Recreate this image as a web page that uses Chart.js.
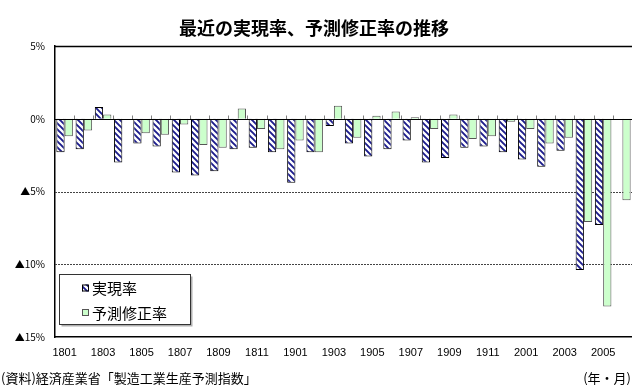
<!DOCTYPE html>
<html lang="ja">
<head>
<meta charset="utf-8">
<title>最近の実現率、予測修正率の推移</title>
<script src="https://cdn.jsdelivr.net/npm/chart.js@4.4.1/dist/chart.umd.min.js"></script>
<style>
  html, body { margin: 0; padding: 0; background: #ffffff; }
  #wrap { width: 632px; height: 385px; position: relative; }
</style>
</head>
<body>
<div id="wrap"><canvas id="chart" width="632" height="385"></canvas></div>
<script>
// 年・月 (YYMM)
const categories = [
  '1801','1802','1803','1804','1805','1806','1807','1808','1809','1810','1811','1812',
  '1901','1902','1903','1904','1905','1906','1907','1908','1909','1910','1911','1912',
  '2001','2002','2003','2004','2005','2006'
];

// 実現率 (%)
const jitsugenRitsu = [
  -2.3, -2.1, 0.8, -3.0, -1.7, -1.9, -3.7, -3.9, -3.6, -2.1, -2.0, -2.3,
  -4.4, -2.3, -0.5, -1.7, -2.6, -2.1, -1.5, -3.0, -2.7, -2.0, -1.9, -2.3,
  -2.8, -3.3, -2.2, -10.4, -7.3, null
];

// 予測修正率 (%)
const yosokuShuseiRitsu = [
  -1.2, -0.8, 0.3, 0.0, -1.0, -1.1, -0.4, -1.8, -2.0, 0.7, -0.7, -2.1,
  -1.5, -2.3, 0.9, -1.3, 0.2, 0.5, 0.1, -0.7, 0.3, -1.4, -1.2, -0.2,
  -0.7, -1.7, -1.3, -7.1, -12.9, -5.6
];

const yTickValues = [5, 0, -5, -10, -15];
const yTickLabels = ['5%', '0%', '▲5%', '▲10%', '▲15%'];

const titleText = '最近の実現率、予測修正率の推移';
const sourceText = '(資料)経済産業省「製造工業生産予測指数」';
const unitText = '(年・月)';

const LATIN = '"Liberation Sans", Arial, sans-serif';
const CJK = '"Noto Sans CJK JP", "Noto Sans", sans-serif';

// diagonal navy hatching for 実現率
function makeHatch() {
  const s = 6;
  const c = document.createElement('canvas');
  c.width = s; c.height = s;
  const g = c.getContext('2d');
  g.fillStyle = '#ffffff';
  g.fillRect(0, 0, s, s);
  g.strokeStyle = '#1c1c8c';
  g.lineWidth = 1.9;
  g.beginPath();
  g.moveTo(-1, -1); g.lineTo(s + 1, s + 1);
  g.moveTo(s - 1, -1); g.lineTo(s + 1, 1);
  g.moveTo(-1, s - 1); g.lineTo(1, s + 1);
  g.stroke();
  return g.createPattern(c, 'repeat');
}
const hatch = makeHatch();
const greenFill = '#ccffcc';

// grid lines, top frame, zero line with category ticks
const framePlugin = {
  id: 'frame',
  beforeDatasetsDraw(chart) {
    const { ctx, chartArea: a, scales: { y } } = chart;
    ctx.save();
    y.ticks.forEach(t => {
      const py = Math.round(y.getPixelForValue(t.value)) + 0.5;
      if (t.value === y.max) {
        ctx.strokeStyle = '#000'; ctx.lineWidth = 1.5; ctx.setLineDash([]);
      } else if (t.value === 0 || t.value === y.min) {
        return;
      } else {
        ctx.strokeStyle = '#444'; ctx.lineWidth = 1; ctx.setLineDash([2, 1]);
      }
      ctx.beginPath(); ctx.moveTo(a.left, py); ctx.lineTo(a.right, py); ctx.stroke();
    });
    ctx.restore();
  },
  afterDatasetsDraw(chart) {
    const { ctx, chartArea: a, scales: { x, y } } = chart;
    const y0 = Math.round(y.getPixelForValue(0)) + 0.5;
    ctx.save();
    ctx.strokeStyle = '#808080';
    ctx.lineWidth = 1;
    for (let i = 1; i < categories.length; i++) {
      const bx = Math.round((x.getPixelForValue(i - 1) + x.getPixelForValue(i)) / 2) + 0.5;
      ctx.beginPath(); ctx.moveTo(bx, y0 - 4); ctx.lineTo(bx, y0); ctx.stroke();
    }
    ctx.strokeStyle = '#000';
    ctx.lineWidth = 1.2;
    ctx.beginPath(); ctx.moveTo(a.left, y0); ctx.lineTo(a.right, y0); ctx.stroke();
    ctx.restore();
  }
};

// legend box, title and notes
const textPlugin = {
  id: 'texts',
  afterDraw(chart) {
    const { ctx } = chart;
    ctx.save();
    // legend
    const bx = 59.5, by = 274.5, bw = 131, bh = 50;
    ctx.fillStyle = '#b0b0b0';
    ctx.fillRect(bx + 2, by + 2, bw, bh);
    ctx.fillStyle = '#ffffff';
    ctx.fillRect(bx, by, bw, bh);
    ctx.strokeStyle = '#333';
    ctx.lineWidth = 1;
    ctx.strokeRect(bx, by, bw, bh);
    ctx.font = '15px ' + CJK;
    ctx.textBaseline = 'middle';
    ctx.textAlign = 'left';
    chart.data.datasets.forEach((ds, i) => {
      const cy = 288 + i * 24.5;
      ctx.fillStyle = ds.backgroundColor;
      ctx.fillRect(82, cy - 3.5, 7, 7);
      ctx.strokeStyle = ds.borderColor;
      ctx.strokeRect(82.5, cy - 3, 6, 6);
      ctx.fillStyle = '#000';
      ctx.fillText(ds.label, 92, cy + 0.5);
    });
    // title
    ctx.font = 'bold 18px ' + CJK;
    ctx.textAlign = 'center';
    ctx.fillStyle = '#000';
    ctx.fillText(titleText, 314, 28);
    // notes
    ctx.font = '13px ' + CJK;
    ctx.textAlign = 'left';
    ctx.fillText(sourceText, 1, 378);
    ctx.textAlign = 'right';
    ctx.fillText(unitText, 631, 378);
    ctx.restore();
  }
};

new Chart(document.getElementById('chart'), {
  type: 'bar',
  data: {
    labels: categories,
    datasets: [
      {
        label: '実現率',
        data: jitsugenRitsu,
        backgroundColor: hatch,
        borderColor: '#000000',
        borderWidth: 1
      },
      {
        label: '予測修正率',
        data: yosokuShuseiRitsu,
        backgroundColor: greenFill,
        borderColor: '#555555',
        borderWidth: 1
      }
    ]
  },
  options: {
    responsive: false,
    animation: false,
    devicePixelRatio: 1,
    layout: { padding: { top: 46, left: 0, right: 0, bottom: 0 } },
    plugins: {
      legend: { display: false },
      title: { display: false },
      tooltip: { enabled: false }
    },
    datasets: {
      bar: { categoryPercentage: 0.86, barPercentage: 1.0, borderSkipped: 'start' }
    },
    scales: {
      x: {
        offset: true,
        grid: { display: false, drawTicks: false },
        border: { display: true, color: '#000', width: 1.5 },
        ticks: {
          autoSkip: false,
          maxRotation: 0,
          minRotation: 0,
          padding: 9,
          color: '#000',
          font: { family: LATIN, size: 11 },
          callback: (v, i) => (i % 2 === 0 ? categories[i] : '')
        },
        afterFit(scale) { scale.height = 48; }
      },
      y: {
        min: -15,
        max: 5,
        grid: { display: false, drawTicks: false },
        border: { display: true, color: '#000', width: 1.5 },
        ticks: {
          stepSize: 5,
          padding: 10,
          color: '#000',
          font: { family: CJK, size: 10 },
          callback: (v) => {
            const k = yTickValues.indexOf(v);
            return k >= 0 ? yTickLabels[k] : '';
          }
        },
        afterFit(scale) { scale.width = 55; }
      }
    }
  },
  plugins: [framePlugin, textPlugin]
});
</script>
</body>
</html>
